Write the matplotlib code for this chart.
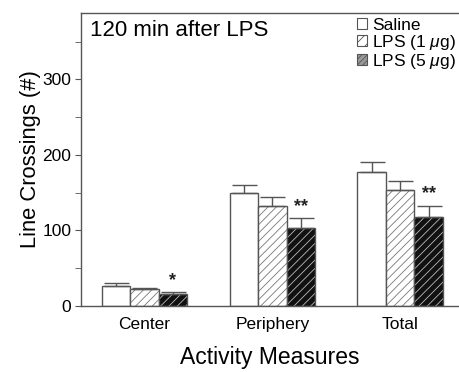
import matplotlib
matplotlib.use('Agg')
import matplotlib.pyplot as plt
import numpy as np
from matplotlib.patches import Patch
from matplotlib.ticker import MultipleLocator

plt.rcParams['font.family'] = ['Liberation Sans', 'DejaVu Sans']
plt.rcParams['mathtext.fontset'] = 'custom'
plt.rcParams['mathtext.it'] = 'Liberation Sans:italic'
plt.rcParams['mathtext.rm'] = 'Liberation Sans'
plt.rcParams['hatch.linewidth'] = 0.6

# Data
measures = ['Center', 'Periphery', 'Total']
groups = ['Saline', r'LPS (1 $\mu$g)', r'LPS (5 $\mu$g)']
saline = [27, 149, 177]
saline_err = [4, 11, 14]
lps1 = [22, 132, 153]
lps1_err = [2, 12, 13]
lps5 = [16, 103, 118]
lps5_err = [3, 13, 15]
stars = ['*', '**', '**']

EDGE = '#555555'

fig = plt.figure(figsize=(4.59, 3.72), dpi=100)
ax = fig.add_axes([0.1765, 0.1774, 0.8235, 0.7876])

x = np.arange(len(measures))
w = 0.223
err_kw = dict(fmt='none', ecolor=EDGE, elinewidth=1.0, capsize=9, capthick=1.0)

# Saline: plain white
ax.bar(x - w, saline, w, color='white', edgecolor=EDGE, linewidth=1.0)
ax.errorbar(x - w, saline, yerr=[np.zeros(3), saline_err], **err_kw)

# LPS 1 ug: white with gray hatch
ax.bar(x, lps1, w, color='white', edgecolor='#777777', hatch='////', linewidth=0)
ax.bar(x, lps1, w, color='none', edgecolor=EDGE, linewidth=1.0)
ax.errorbar(x, lps1, yerr=[np.zeros(3), lps1_err], **err_kw)

# LPS 5 ug: black with white hatch
ax.bar(x + w, lps5, w, color='#111111', edgecolor='#bbbbbb', hatch='////', linewidth=0)
ax.bar(x + w, lps5, w, color='none', edgecolor=EDGE, linewidth=1.0)
ax.errorbar(x + w, lps5, yerr=[np.zeros(3), lps5_err], **err_kw)

for xi, v, e, s in zip(x + w, lps5, lps5_err, stars):
    ax.text(xi, v + e + 4, s, ha='center', va='bottom', fontsize=13,
            fontweight='bold', color='#222222')

ax.set_xlim(-0.496, 2.46)
ax.set_ylim(0, 388)
ax.set_xticks(x)
ax.set_xticklabels(measures, fontsize=12.5)
ax.set_yticks([0, 100, 200, 300])
ax.yaxis.set_minor_locator(MultipleLocator(50))
ax.tick_params(axis='y', which='major', length=4, labelsize=12.5, color=EDGE, pad=3)
ax.tick_params(axis='y', which='minor', length=4, color=EDGE)
ax.tick_params(axis='x', length=0, pad=8)
for side in ['left', 'top', 'bottom']:
    ax.spines[side].set_color(EDGE)
    ax.spines[side].set_linewidth(1.0)
ax.spines['right'].set_visible(False)

ax.set_ylabel('Line Crossings (#)', fontsize=15.8, labelpad=1)
ax.set_xlabel('Activity Measures', fontsize=16.5, labelpad=10)

ax.text(0.025, 0.975, '120 min after LPS', transform=ax.transAxes,
        fontsize=16, ha='left', va='top')

handles = [
    Patch(facecolor='white', edgecolor=EDGE, linewidth=0.8),
    Patch(facecolor='white', edgecolor=EDGE, hatch='///', linewidth=0.8),
    Patch(facecolor='#999999', edgecolor=EDGE, hatch='//////', linewidth=0.8),
]
ax.legend(handles, groups, loc='upper right', bbox_to_anchor=(1.025, 1.025),
          frameon=False, fontsize=12.5, handlelength=0.6, handleheight=0.6,
          handletextpad=0.3, labelspacing=0.0, borderpad=0.2)

fig.savefig('out.png', dpi=100)
